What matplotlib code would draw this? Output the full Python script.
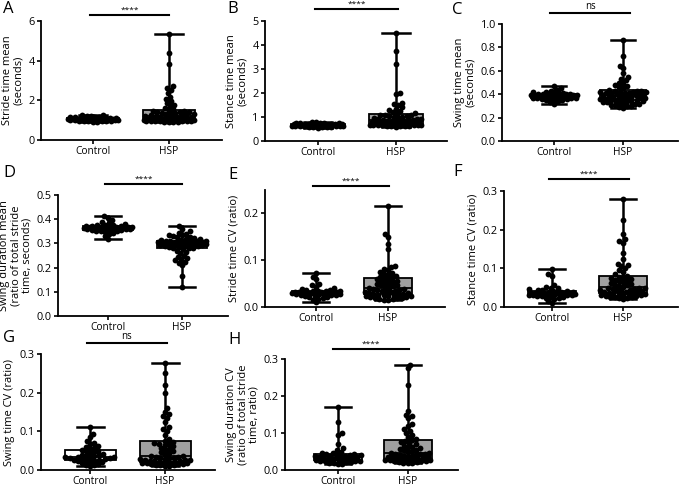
import numpy as np
import matplotlib
matplotlib.use("Agg")
import matplotlib.pyplot as plt

plt.rcParams['font.family'] = ['Open Sans', 'DejaVu Sans']

groups = ['Control', 'HSP']

# A - stride time mean (s)
a_ctrl = [0.90, 0.92, 0.94, 0.95, 0.96, 0.97, 0.98, 0.98, 0.99, 1.00, 1.00, 1.01, 1.02, 1.02, 1.03, 1.03,
          1.04, 1.04, 1.05, 1.05, 1.05, 1.06, 1.06, 1.07, 1.07, 1.08, 1.09, 1.10, 1.10, 1.11, 1.12, 1.13,
          1.14, 1.15, 1.17, 1.18, 1.20, 1.22, 1.24, 1.26]
a_hsp = [0.90, 0.91, 0.92, 0.93, 0.94, 0.95, 0.95, 0.96, 0.96, 0.97, 0.97, 0.98, 0.98, 0.99, 1.00,
         1.01, 1.02, 1.03, 1.04, 1.05, 1.06, 1.07, 1.08, 1.10, 1.11, 1.12, 1.14, 1.15, 1.17, 1.19,
         1.21, 1.23, 1.25, 1.27, 1.29, 1.31, 1.33, 1.35, 1.37, 1.39, 1.41, 1.43, 1.45, 1.47, 1.50,
         1.55, 1.62, 1.70, 1.78, 1.85, 1.95, 2.05, 2.15, 2.35, 2.50, 2.60, 2.70, 3.85, 4.40, 5.32]

# B - stance time mean (s)
b_ctrl = [0.55, 0.57, 0.58, 0.59, 0.60, 0.60, 0.61, 0.61, 0.62, 0.62, 0.63, 0.63, 0.63, 0.64, 0.64, 0.64,
          0.65, 0.65, 0.65, 0.65, 0.66, 0.66, 0.66, 0.67, 0.67, 0.68, 0.68, 0.69, 0.69, 0.70, 0.70, 0.71,
          0.72, 0.73, 0.74, 0.75, 0.76, 0.77, 0.78, 0.80]
b_hsp = [0.60, 0.61, 0.62, 0.63, 0.64, 0.64, 0.65, 0.66, 0.66, 0.67, 0.67, 0.68, 0.68, 0.69, 0.70,
         0.71, 0.72, 0.73, 0.74, 0.75, 0.76, 0.77, 0.78, 0.79, 0.80, 0.81, 0.82, 0.83, 0.84, 0.85,
         0.86, 0.87, 0.88, 0.90, 0.91, 0.93, 0.95, 0.97, 0.99, 1.01, 1.03, 1.05, 1.07, 1.09, 1.10,
         1.12, 1.15, 1.20, 1.25, 1.30, 1.35, 1.40, 1.50, 1.55, 1.60, 1.95, 2.00, 3.20, 3.75, 4.48]

# C - swing time mean (s)
c_ctrl = [0.32, 0.33, 0.34, 0.35, 0.35, 0.36, 0.36, 0.36, 0.37, 0.37, 0.37, 0.37, 0.37, 0.38, 0.38, 0.38,
          0.38, 0.38, 0.38, 0.38, 0.38, 0.39, 0.39, 0.39, 0.39, 0.39, 0.39, 0.40, 0.40, 0.40, 0.40, 0.41,
          0.41, 0.41, 0.42, 0.42, 0.43, 0.44, 0.45, 0.47]
c_hsp = [0.28, 0.29, 0.30, 0.30, 0.31, 0.31, 0.32, 0.32, 0.32, 0.33, 0.33, 0.33, 0.34, 0.34, 0.34,
         0.35, 0.35, 0.35, 0.36, 0.36, 0.36, 0.37, 0.37, 0.37, 0.38, 0.38, 0.38, 0.38, 0.39, 0.39,
         0.39, 0.40, 0.40, 0.40, 0.41, 0.41, 0.41, 0.41, 0.42, 0.42, 0.42, 0.42, 0.43, 0.43, 0.43,
         0.44, 0.45, 0.46, 0.47, 0.48, 0.49, 0.50, 0.52, 0.53, 0.55, 0.58, 0.62, 0.64, 0.73, 0.86]

# D - swing duration mean (ratio of stride time)
d_ctrl = [0.320, 0.330, 0.338, 0.344, 0.348, 0.350, 0.352, 0.353, 0.355, 0.356, 0.357, 0.358, 0.359, 0.360,
          0.360, 0.361, 0.362, 0.362, 0.363, 0.364, 0.364, 0.365, 0.366, 0.366, 0.367, 0.368, 0.368, 0.369,
          0.370, 0.371, 0.372, 0.374, 0.376, 0.378, 0.381, 0.385, 0.390, 0.396, 0.403, 0.412]
d_hsp = [0.120, 0.165, 0.210, 0.220, 0.225, 0.230, 0.235, 0.240, 0.245, 0.250, 0.260, 0.265, 0.270, 0.275, 0.280,
         0.281, 0.283, 0.285, 0.287, 0.288, 0.290, 0.291, 0.292, 0.294, 0.295, 0.296, 0.297, 0.298, 0.299, 0.300,
         0.301, 0.302, 0.303, 0.304, 0.304, 0.305, 0.306, 0.306, 0.307, 0.307, 0.308, 0.308, 0.309, 0.309, 0.310,
         0.312, 0.315, 0.318, 0.320, 0.322, 0.325, 0.328, 0.330, 0.333, 0.336, 0.340, 0.345, 0.350, 0.360, 0.370]

# E - stride time CV
e_ctrl = [0.010, 0.015, 0.018, 0.020, 0.021, 0.022, 0.023, 0.024, 0.025, 0.025, 0.026, 0.027, 0.027, 0.028,
          0.028, 0.029, 0.029, 0.030, 0.030, 0.030, 0.031, 0.031, 0.032, 0.032, 0.033, 0.033, 0.034, 0.034,
          0.035, 0.035, 0.036, 0.037, 0.038, 0.040, 0.043, 0.046, 0.050, 0.060, 0.065, 0.073]
e_hsp = [0.015, 0.016, 0.017, 0.018, 0.019, 0.020, 0.020, 0.021, 0.022, 0.023, 0.023, 0.024, 0.025, 0.025, 0.026,
         0.027, 0.028, 0.028, 0.029, 0.030, 0.031, 0.032, 0.033, 0.034, 0.035, 0.036, 0.037, 0.038, 0.039, 0.040,
         0.041, 0.043, 0.044, 0.046, 0.047, 0.049, 0.050, 0.052, 0.053, 0.055, 0.056, 0.058, 0.059, 0.061, 0.062,
         0.064, 0.066, 0.068, 0.070, 0.072, 0.075, 0.078, 0.082, 0.085, 0.088, 0.125, 0.135, 0.150, 0.155, 0.215]

# F - stance time CV
f_ctrl = [0.010, 0.015, 0.020, 0.022, 0.024, 0.026, 0.027, 0.028, 0.029, 0.030, 0.030, 0.031, 0.032, 0.032,
          0.033, 0.033, 0.034, 0.034, 0.035, 0.035, 0.035, 0.036, 0.036, 0.037, 0.038, 0.038, 0.039, 0.040,
          0.041, 0.042, 0.043, 0.044, 0.046, 0.048, 0.050, 0.053, 0.058, 0.080, 0.085, 0.099]
f_hsp = [0.020, 0.022, 0.024, 0.025, 0.026, 0.027, 0.028, 0.029, 0.030, 0.031, 0.032, 0.033, 0.033, 0.034, 0.035,
         0.036, 0.037, 0.038, 0.039, 0.040, 0.041, 0.042, 0.043, 0.044, 0.045, 0.046, 0.047, 0.048, 0.049, 0.050,
         0.052, 0.054, 0.056, 0.058, 0.060, 0.062, 0.064, 0.066, 0.068, 0.070, 0.072, 0.074, 0.076, 0.078, 0.080,
         0.085, 0.090, 0.095, 0.100, 0.105, 0.108, 0.112, 0.125, 0.140, 0.165, 0.170, 0.175, 0.190, 0.225, 0.279]

# G - swing time CV
g_ctrl = [0.010, 0.012, 0.014, 0.016, 0.018, 0.020, 0.021, 0.022, 0.024, 0.025, 0.026, 0.027, 0.028, 0.029,
          0.030, 0.031, 0.032, 0.033, 0.033, 0.034, 0.035, 0.036, 0.038, 0.040, 0.042, 0.044, 0.046, 0.048,
          0.050, 0.052, 0.055, 0.058, 0.060, 0.063, 0.066, 0.070, 0.075, 0.085, 0.092, 0.110]
g_hsp = [0.010, 0.011, 0.012, 0.013, 0.014, 0.015, 0.015, 0.016, 0.017, 0.017, 0.018, 0.018, 0.019, 0.019, 0.020,
         0.021, 0.022, 0.023, 0.024, 0.025, 0.026, 0.027, 0.028, 0.029, 0.030, 0.031, 0.032, 0.033, 0.034, 0.035,
         0.037, 0.040, 0.043, 0.046, 0.049, 0.052, 0.055, 0.058, 0.061, 0.064, 0.066, 0.068, 0.070, 0.072, 0.075,
         0.080, 0.090, 0.100, 0.105, 0.110, 0.125, 0.135, 0.140, 0.145, 0.150, 0.160, 0.200, 0.220, 0.250, 0.278]

# H - swing duration CV
h_ctrl = [0.015, 0.017, 0.019, 0.020, 0.021, 0.022, 0.023, 0.024, 0.025, 0.025, 0.026, 0.027, 0.028, 0.029,
          0.030, 0.031, 0.032, 0.033, 0.034, 0.035, 0.035, 0.036, 0.037, 0.038, 0.039, 0.040, 0.041, 0.042,
          0.043, 0.044, 0.045, 0.047, 0.050, 0.055, 0.060, 0.070, 0.095, 0.100, 0.130, 0.170]
h_hsp = [0.018, 0.019, 0.020, 0.021, 0.022, 0.023, 0.024, 0.025, 0.026, 0.026, 0.027, 0.028, 0.028, 0.029, 0.030,
         0.031, 0.032, 0.033, 0.034, 0.035, 0.036, 0.037, 0.038, 0.039, 0.040, 0.041, 0.042, 0.043, 0.044, 0.045,
         0.047, 0.049, 0.051, 0.053, 0.055, 0.057, 0.059, 0.061, 0.063, 0.066, 0.069, 0.072, 0.075, 0.078, 0.080,
         0.085, 0.090, 0.095, 0.100, 0.105, 0.110, 0.120, 0.125, 0.140, 0.145, 0.150, 0.160, 0.230, 0.275, 0.285]

letters = ['A', 'B', 'C', 'D', 'E', 'F', 'G', 'H']
ylabels = ['Stride time mean\n(seconds)', 'Stance time mean\n(seconds)', 'Swing time mean\n(seconds)',
           'Swing duration mean\n(ratio of total stride\ntime, seconds)', 'Stride time CV (ratio)',
           'Stance time CV (ratio)', 'Swing time CV (ratio)',
           'Swing duration CV\n(ratio of total stride\ntime, ratio)']
signif = ['****', '****', 'ns', '****', '****', '****', 'ns', '****']
ctrl_data = [a_ctrl, b_ctrl, c_ctrl, d_ctrl, e_ctrl, f_ctrl, g_ctrl, h_ctrl]
hsp_data = [a_hsp, b_hsp, c_hsp, d_hsp, e_hsp, f_hsp, g_hsp, h_hsp]
yticks = [[0, 2, 4, 6], [0, 1, 2, 3, 4, 5], [0.0, 0.2, 0.4, 0.6, 0.8, 1.0], [0.0, 0.1, 0.2, 0.3, 0.4, 0.5],
          [0.0, 0.1, 0.2], [0.0, 0.1, 0.2, 0.3], [0.0, 0.1, 0.2, 0.3], [0.0, 0.1, 0.2, 0.3]]
ytop = [6, 5, 1.0, 0.5, 0.25, 0.3, 0.3, 0.3]
ydec = [0, 0, 1, 1, 1, 1, 1, 1]

W, H = 680, 487
# layout in pixels: axes left, right, top, bottom, control x, hsp x, sig bar y, sig x0, x1, letter x, y
layout = [
    (41, 222, 21, 140, 93, 169, 15, 90, 169, 3, 9),
    (265, 447, 21, 141, 318, 396, 9, 315, 398, 227, 9),
    (502, 678, 24, 141, 554, 623, 13, 550, 630, 452, 10),
    (58, 228, 195, 316, 108, 182, 184, 105, 182, 3, 173),
    (265, 445, 190, 307, 316, 388, 186, 313, 389, 228, 175),
    (504, 678, 191, 307, 552, 623, 179, 549, 629, 453, 172),
    (41, 215, 354, 470, 90, 165, 343, 87, 167, 3, 338),
    (285, 458, 359, 470, 338, 408, 349, 333, 409, 228, 340),
]

fig = plt.figure(figsize=(6.8, 4.87), dpi=100)


def swarm(ax, x0, vals, half_w, d):
    vals = np.asarray(vals, dtype=float)
    pts = ax.transData.transform(np.column_stack([np.full(len(vals), x0), vals]))
    cx = pts[0, 0]
    ys = pts[:, 1]
    hw = ax.transData.transform([[x0 + half_w, 0]])[0, 0] - cx
    cands = sorted(np.arange(-hw, hw + 0.01, 0.5), key=abs)
    placed = []
    xs = np.zeros(len(vals))
    for i in np.argsort(ys):
        y = ys[i]
        near = [(px, py) for px, py in placed if abs(y - py) < d]
        best, best_gap = 0.0, -1
        for c in cands:
            gap = min((np.hypot(c - px, y - py) for px, py in near), default=1e9)
            if gap >= d:
                best = c
                break
            if gap > best_gap:
                best_gap, best = gap, c
        xs[i] = cx + best
        placed.append((best, y))
    xd = ax.transData.inverted().transform(np.column_stack([xs, ys]))[:, 0]
    ax.plot(xd, vals, 'o', color='black', ms=4.2, mew=0, zorder=3)


for k in range(8):
    L, R, T, B, xc, xh, sy, sx0, sx1, lx, ly = layout[k]
    ax = fig.add_axes([L / W, 1 - B / H, (R - L) / W, (B - T) / H])
    unit = xh - xc
    ax.set_xlim((L - xc) / unit, (R - xc) / unit)
    ax.set_ylim(0, ytop[k])

    bp = ax.boxplot([ctrl_data[k], hsp_data[k]], positions=[0, 1], whis=(0, 100), widths=0.68,
                    patch_artist=True, showfliers=False, capwidths=0.36,
                    medianprops=dict(color='black', lw=1.3),
                    whiskerprops=dict(color='black', lw=1.8),
                    capprops=dict(color='black', lw=1.8),
                    boxprops=dict(edgecolor='black', lw=1.3))
    bp['boxes'][0].set_facecolor('white')
    bp['boxes'][1].set_facecolor('#a0a0a0')

    swarm(ax, 0, ctrl_data[k], 0.33, 4.2)
    swarm(ax, 1, hsp_data[k], 0.33, 4.2)

    ax.spines[['top', 'right']].set_visible(False)
    ax.spines[['left', 'bottom']].set_linewidth(1.3)
    ax.set_xticks([0, 1])
    ax.set_xticklabels(groups, fontsize=7.3)
    ax.set_yticks(yticks[k])
    if ydec[k]:
        ax.set_yticklabels([f'{v:.1f}' for v in yticks[k]], fontsize=7.8)
    else:
        ax.set_yticklabels([str(v) for v in yticks[k]], fontsize=7.8)
    ax.tick_params(axis='both', width=1.2, length=3, pad=1.5)
    ax.tick_params(axis='x', pad=1)
    ax.set_ylabel(ylabels[k], fontsize=8, linespacing=1.0, labelpad=3)

    # significance bar
    fig.add_artist(plt.Line2D([sx0 / W, sx1 / W], [1 - sy / H, 1 - sy / H], color='black', lw=1.5,
                              transform=fig.transFigure))
    fig.text((sx0 + sx1) / 2 / W, 1 - (sy - 1) / H, signif[k], ha='center', va='bottom',
             fontsize=6 if signif[k] != 'ns' else 7)
    fig.text(lx / W, 1 - ly / H, letters[k], ha='left', va='center', fontsize=12)

fig.savefig('out.png', dpi=100)
